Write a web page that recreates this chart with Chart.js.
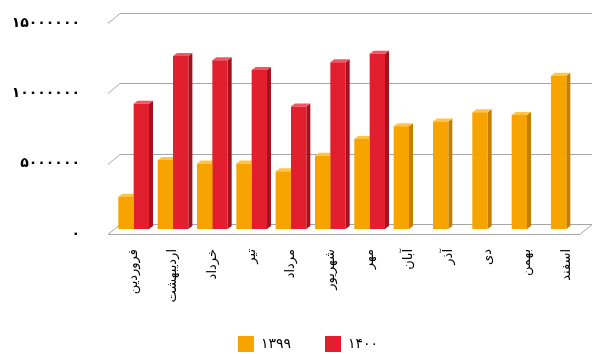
<!DOCTYPE html>
<html>
<head>
<meta charset="utf-8">
<script src="https://cdn.jsdelivr.net/npm/chart.js@4.4.0/dist/chart.umd.min.js"></script>
<style>
    html, body { margin: 0; padding: 0; background: #fff; }
    #wrap { width: 592px; height: 354px; }
</style>
</head>
<body>
<div id="wrap"><canvas id="salesChart"></canvas></div>
<script>
// months of the Persian calendar
const months = ['فروردین', 'اردیبهشت', 'خرداد', 'تیر', 'مرداد', 'شهریور', 'مهر', 'آبان', 'آذر', 'دی', 'بهمن', 'اسفند'];
const seriesNames = ['۱۳۹۹', '۱۴۰۰'];
const values1399 = [2300000, 4900000, 4650000, 4650000, 4100000, 5200000, 6400000, 7300000, 7650000, 8300000, 8100000, 10900000];
const values1400 = [8900000, 12300000, 12000000, 11300000, 8700000, 11850000, 12450000, null, null, null, null, null];
const yMax = 15000000;
const yStep = 5000000;

const faDigits = ['۰', '۱', '۲', '۳', '۴', '۵', '۶', '۷', '۸', '۹'];
function toPersian(n) {
    return String(n).replace(/[0-9]/g, d => faDigits[+d]);
}

// depth of the fake 3d look
const DX = 4, DY = 3;       // bars
const GX = 6, GY = 5;       // walls / floor (half depth, chart area is mid plane)

const shades = [
    { side: '#C47F00', top: '#FFC445' },
    { side: '#A5121D', top: '#F25560' }
];

const depthPlugin = {
    id: 'depth3d',
    beforeDraw(chart) {
        // legend in the original sits a bit right of the canvas centre
        if (chart.legend) chart.legend.left = 30;
    },
    beforeDatasetsDraw(chart) {
        const ctx = chart.ctx;
        const yScale = chart.scales.y;
        const area = chart.chartArea;
        ctx.save();
        ctx.strokeStyle = '#A6A6A6';
        ctx.lineWidth = 1;
        // grid lines with a slanted stub on the left
        yScale.ticks.forEach(t => {
            const py = Math.round(yScale.getPixelForValue(t.value)) + 0.5;
            ctx.beginPath();
            ctx.moveTo(area.left - GX, py + GY);
            ctx.lineTo(area.left + GX, py - GY);
            ctx.lineTo(area.right + GX, py - GY);
            if (t.value === 0) {
                ctx.lineTo(area.right - GX, py + GY);
                ctx.closePath();
            }
            ctx.stroke();
        });
        // side and top faces of the bars, the fronts are drawn by chart.js over them
        chart.data.datasets.forEach((ds, i) => {
            const meta = chart.getDatasetMeta(i);
            meta.data.forEach((bar, j) => {
                if (ds.data[j] == null) return;
                const p = bar.getProps(['x', 'y', 'base', 'width'], true);
                const l = p.x - p.width / 2, r = p.x + p.width / 2;
                ctx.fillStyle = shades[i].side;
                ctx.beginPath();
                ctx.moveTo(r, p.y);
                ctx.lineTo(r + DX, p.y - DY);
                ctx.lineTo(r + DX, p.base - DY);
                ctx.lineTo(r, p.base);
                ctx.closePath();
                ctx.fill();
                ctx.fillStyle = shades[i].top;
                ctx.beginPath();
                ctx.moveTo(l, p.y);
                ctx.lineTo(l + DX, p.y - DY);
                ctx.lineTo(r + DX, p.y - DY);
                ctx.lineTo(r, p.y);
                ctx.closePath();
                ctx.fill();
            });
        });
        ctx.restore();
    }
};

document.addEventListener('DOMContentLoaded', function () {
    const ctx = document.getElementById('salesChart').getContext('2d');
    new Chart(ctx, {
        type: 'bar',
        data: {
            labels: months,
            datasets: [{
                label: seriesNames[0],
                data: values1399,
                backgroundColor: '#F7A400',
                borderWidth: 0,
                categoryPercentage: 0.78,
                barPercentage: 1.0
            }, {
                label: seriesNames[1],
                data: values1400,
                backgroundColor: '#E21F2E',
                borderWidth: 0,
                categoryPercentage: 0.78,
                barPercentage: 1.0
            }]
        },
        options: {
            responsive: true,
            maintainAspectRatio: false,
            animation: false,
            layout: { padding: { top: 18, right: 6, left: 0, bottom: -8 } },
            plugins: {
                legend: {
                    position: 'bottom',
                    labels: {
                        boxWidth: 16,
                        boxHeight: 16,
                        padding: 34,
                        color: '#000',
                        font: { family: 'DejaVu Sans', size: 14 }
                    }
                },
                tooltip: { enabled: false }
            },
            scales: {
                x: {
                    grid: { display: false },
                    border: { display: false },
                    ticks: {
                        minRotation: 90,
                        maxRotation: 90,
                        padding: 12,
                        color: '#000',
                        font: { family: 'DejaVu Sans', size: 13 }
                    },
                    afterFit(scale) {
                        scale.height = 73;
                        scale.paddingLeft = 0;
                        scale.paddingRight = 0;
                    }
                },
                y: {
                    min: 0,
                    max: yMax,
                    grid: { display: false, drawTicks: false },
                    border: { display: false },
                    ticks: {
                        stepSize: yStep,
                        padding: 34,
                        labelOffset: 5,
                        color: '#000',
                        font: { family: 'DejaVu Sans', size: 14, weight: 'bold' },
                        callback: v => toPersian(v)
                    },
                    afterFit(scale) {
                        scale.width = 114;
                        scale.paddingTop = 0;
                        scale.paddingBottom = 0;
                    }
                }
            }
        },
        plugins: [depthPlugin]
    });
});
</script>
</body>
</html>
